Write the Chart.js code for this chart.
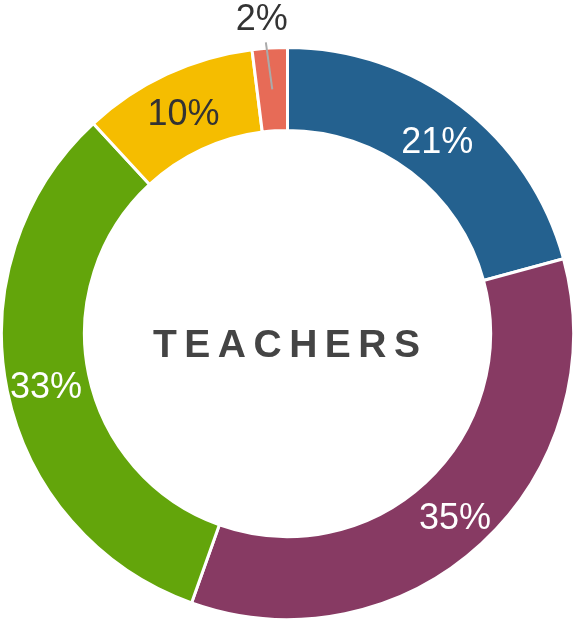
<!DOCTYPE html>
<html>
<head>
<meta charset="utf-8">
<script src="https://cdn.jsdelivr.net/npm/chart.js@4"></script>
<style>
  html, body { margin: 0; padding: 0; background: #fff; }
  canvas { display: block; }
</style>
</head>
<body>
<canvas id="myChart" width="575" height="621"></canvas>
<script>
const categorias = ["A", "B", "C", "D", "E"];
const valores = [21, 35, 33, 10, 2];
const colores = ["#24618f", "#873a63", "#63a50b", "#f5bd00", "#e76b57"];
const colorTexto = ["#ffffff", "#ffffff", "#ffffff", "#333333", "#333333"];
const titulo = "TEACHERS";

const ctx = document.getElementById('myChart');

// etiquetas de porcentaje + texto central
const etiquetas = {
  id: "etiquetas",
  afterDatasetsDraw(chart) {
    const c = chart.ctx;
    const meta = chart.getDatasetMeta(0);
    c.save();
    c.font = "36px 'Liberation Sans', Arial, sans-serif";
    c.textAlign = "center";
    c.textBaseline = "middle";
    meta.data.forEach((arc, i) => {
      const p = arc.getProps(["x", "y", "startAngle", "endAngle", "innerRadius", "outerRadius"], true);
      const ang = (p.startAngle + p.endAngle) / 2;
      const r = (p.innerRadius + p.outerRadius) / 2;
      const texto = valores[i] + "%";
      if (valores[i] < 5) {
        // pequeño: fuera con línea guía
        const x1 = p.x + Math.cos(ang) * r, y1 = p.y + Math.sin(ang) * r;
        const x2 = p.x + Math.cos(ang - 0.012) * (p.outerRadius + 6);
        const y2 = p.y + Math.sin(ang - 0.012) * (p.outerRadius + 6);
        c.strokeStyle = "#aaaaaa";
        c.lineWidth = 2;
        c.beginPath();
        c.moveTo(x1, y1);
        c.lineTo(x2, y2);
        c.stroke();
        c.fillStyle = colorTexto[i];
        c.fillText(texto, p.x + Math.cos(ang - 0.02) * (p.outerRadius + 28), p.y + Math.sin(ang - 0.02) * (p.outerRadius + 28));
      } else {
        c.fillStyle = colorTexto[i];
        c.fillText(texto, p.x + Math.cos(ang) * (r + 2), p.y + Math.sin(ang) * (r + 2) + 5);
      }
    });

    // titulo con espaciado entre letras
    const cx = meta.data[0].x, cy = meta.data[0].y;
    c.font = "bold 39px 'Liberation Sans', Arial, sans-serif";
    c.fillStyle = "#444444";
    c.textAlign = "left";
    const esp = 7.5;
    let ancho = 0;
    for (const ch of titulo) ancho += c.measureText(ch).width;
    ancho += esp * (titulo.length - 1);
    let x = cx - ancho / 2 - 1;
    for (const ch of titulo) {
      c.fillText(ch, x, cy + 13);
      x += c.measureText(ch).width + esp;
    }
    c.restore();
  }
};

new Chart(ctx, {
  type: "doughnut",
  data: {
    labels: categorias,
    datasets: [{
      data: valores,
      backgroundColor: colores,
      borderColor: "#ffffff",
      borderWidth: 3
    }]
  },
  options: {
    responsive: false,
    animation: false,
    cutout: "71%",
    layout: { padding: { top: 46, bottom: 0, left: 0, right: 0 } },
    plugins: {
      legend: { display: false },
      tooltip: { enabled: false }
    }
  },
  plugins: [etiquetas]
});
</script>
</body>
</html>
